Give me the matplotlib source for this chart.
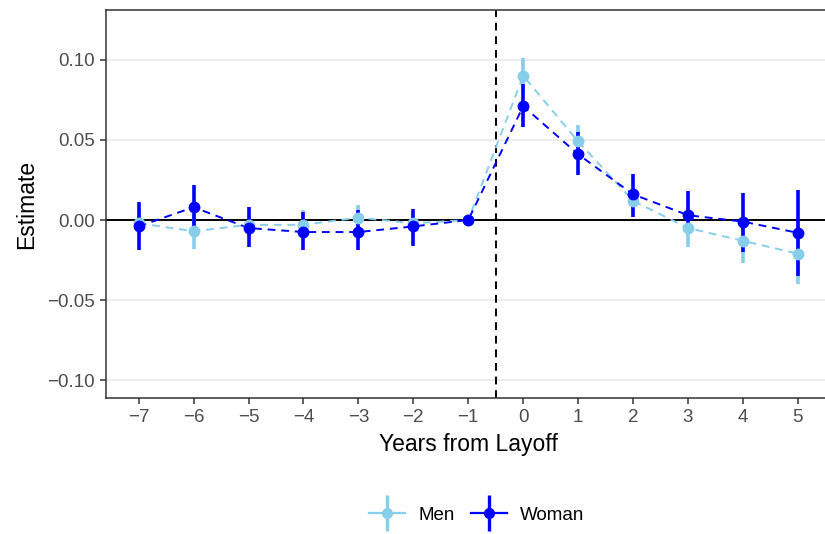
import matplotlib
matplotlib.use("Agg")
import matplotlib.pyplot as plt
from matplotlib.lines import Line2D
from matplotlib.legend_handler import HandlerTuple
import numpy as np

plt.rcParams["font.family"] = ["Liberation Sans", "DejaVu Sans"]

years = [-7, -6, -5, -4, -3, -2, -1, 0, 1, 2, 3, 4, 5]

men_est = [-0.002, -0.007, -0.003, -0.003, 0.0015, -0.002, 0.0, 0.090, 0.049, 0.012, -0.005, -0.013, -0.021]
men_lo = [-0.010, -0.018, -0.010, -0.011, -0.006, -0.009, 0.0, 0.079, 0.040, 0.005, -0.017, -0.027, -0.040]
men_hi = [0.006, 0.004, 0.004, 0.006, 0.0095, 0.005, 0.0, 0.101, 0.059, 0.019, 0.007, 0.001, -0.002]

woman_est = [-0.004, 0.008, -0.005, -0.0075, -0.0075, -0.004, 0.0, 0.071, 0.041, 0.016, 0.003, -0.001, -0.008]
woman_lo = [-0.019, -0.007, -0.017, -0.019, -0.019, -0.016, 0.0, 0.058, 0.028, 0.002, -0.008, -0.020, -0.035]
woman_hi = [0.011, 0.022, 0.008, 0.005, 0.006, 0.007, 0.0, 0.085, 0.055, 0.029, 0.018, 0.017, 0.019]

series = [
    ("Men", "#87CEEB", men_est, men_lo, men_hi),
    ("Woman", "#0000FF", woman_est, woman_lo, woman_hi),
]

fig = plt.figure(figsize=(8.25, 5.34), dpi=100)
ax = fig.add_axes([0.1281, 0.2547, 0.879, 0.7266])

ax.set_xlim(-7.6, 5.6)
ax.set_ylim(-0.111, 0.131)
ax.set_yticks([-0.10, -0.05, 0.0, 0.05, 0.10])
ax.set_yticklabels(["\u22120.10", "\u22120.05", "0.00", "0.05", "0.10"])
ax.set_xticks(years)
ax.set_xticklabels([f"\u2212{-y}" if y < 0 else str(y) for y in years])

ax.grid(axis="y", color="#EBEBEB", linewidth=1.3)
ax.set_axisbelow(True)
ax.axhline(0, color="black", linewidth=1.4, zorder=2)
ax.axvline(-0.5, color="black", linewidth=1.4, linestyle=(0, (4, 3)), zorder=2)

handles = []
for name, col, est, lo, hi in series:
    est = np.array(est)
    yerr = [est - np.array(lo), np.array(hi) - est]
    ax.plot(years, est, color=col, linewidth=1.4, linestyle=(0, (4, 3)), zorder=3)
    ax.errorbar(years, est, yerr=yerr, fmt="o", color=col, ecolor=col,
                elinewidth=2.6, markersize=7.5, capsize=0, zorder=4)
    h = (Line2D([], [], color=col, linewidth=1.6, marker="o", markersize=7),
         Line2D([], [], color=col, marker="|", markersize=26, markeredgewidth=2.4,
                linestyle="none"))
    handles.append(h)

for s in ax.spines.values():
    s.set_color("#333333")
    s.set_linewidth(1.1)

ax.tick_params(colors="#333333", labelcolor="#4D4D4D", labelsize=13.5, length=4, width=1.1, pad=4)
ax.set_xlabel("Years from Layoff", fontsize=16.5, labelpad=5)
ax.set_ylabel("Estimate", fontsize=16.5, labelpad=6)

fig.legend(handles, ["Men", "Woman"], handler_map={tuple: HandlerTuple(ndivide=1)},
           loc="center", bbox_to_anchor=(0.578, 0.035), ncol=2, frameon=False,
           fontsize=13.5, handlelength=1.9, columnspacing=0.9, handletextpad=0.7)

plt.savefig("out.png", dpi=100)
